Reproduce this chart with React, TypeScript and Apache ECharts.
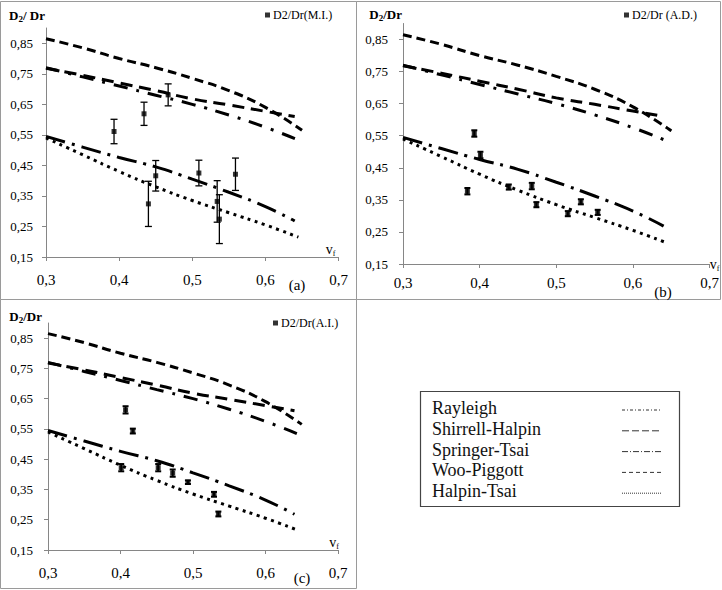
import React, { useEffect, useRef } from "react";
import * as echarts from "echarts";

// ---------- data ----------
const X_TICKS = [0.3, 0.4, 0.5, 0.6, 0.7];
const Y_TICKS = [0.15, 0.25, 0.35, 0.45, 0.55, 0.65, 0.75, 0.85];

const MODEL_NAMES = ["Rayleigh", "Shirrell-Halpin", "Springer-Tsai", "Woo-Piggott", "Halpin-Tsai"];

const RAYLEIGH_VF = [0.3, 0.35, 0.4, 0.45, 0.5, 0.55, 0.6, 0.648];
const RAYLEIGH = [0.77, 0.74, 0.71, 0.68, 0.65, 0.615, 0.575, 0.53];

const SHIRRELL_VF = [0.3, 0.35, 0.4, 0.45, 0.5, 0.55, 0.6, 0.64];
const SHIRRELL = [0.768, 0.745, 0.72, 0.695, 0.668, 0.648, 0.627, 0.61];

const SPRINGER_VF = [0.3, 0.35, 0.4, 0.45, 0.5, 0.55, 0.6, 0.64];
const SPRINGER = [0.545, 0.51, 0.476, 0.445, 0.405, 0.362, 0.315, 0.268];

const WOO_VF = [0.3, 0.35, 0.4, 0.45, 0.5, 0.55, 0.6, 0.65];
const WOO = [0.865, 0.835, 0.8, 0.77, 0.735, 0.695, 0.64, 0.565];

const HALPIN_VF = [0.3, 0.35, 0.4, 0.45, 0.5, 0.55, 0.6, 0.645];
const HALPIN = [0.54, 0.485, 0.43, 0.38, 0.335, 0.295, 0.255, 0.215];

// panel (a) : M.I.
const MI_NAME = "D2/Dr(M.I.)";
const MI_VF = [0.393, 0.434, 0.467, 0.44, 0.45, 0.509, 0.534, 0.537, 0.559];
const MI_VAL = [0.561, 0.619, 0.681, 0.324, 0.416, 0.425, 0.332, 0.274, 0.421];
const MI_ERR = [0.04, 0.038, 0.036, 0.074, 0.05, 0.042, 0.068, 0.08, 0.053];

// panel (b) : A.D.
const AD_NAME = "D2/Dr (A.D.)";
const AD_VF = [0.393, 0.401, 0.384, 0.438, 0.468, 0.474, 0.515, 0.532, 0.554];
const AD_VAL = [0.557, 0.49, 0.377, 0.39, 0.393, 0.335, 0.307, 0.344, 0.311];
const AD_ERR = [0.01, 0.01, 0.01, 0.008, 0.01, 0.008, 0.008, 0.008, 0.008];

// panel (c) : A.I.
const AI_NAME = "D2/Dr(A.I.)";
const AI_VF = [0.407, 0.417, 0.401, 0.452, 0.472, 0.493, 0.529, 0.535];
const AI_VAL = [0.613, 0.543, 0.422, 0.422, 0.404, 0.374, 0.334, 0.269];
const AI_ERR = [0.012, 0.008, 0.012, 0.012, 0.012, 0.006, 0.008, 0.008];

// ---------- styles ----------
const FONT = '"Liberation Serif", "Times New Roman", serif';
const AXIS_COLOR = "#868686";

const MODELS = [
  { name: MODEL_NAMES[0], vf: RAYLEIGH_VF, val: RAYLEIGH, dash: [14, 9, 3, 9], legendDash: [3, 2, 1, 2] },
  { name: MODEL_NAMES[1], vf: SHIRRELL_VF, val: SHIRRELL, dash: [12, 7], legendDash: [7, 3] },
  { name: MODEL_NAMES[2], vf: SPRINGER_VF, val: SPRINGER, dash: [20, 7, 3, 7], legendDash: [6, 2, 1, 2] },
  { name: MODEL_NAMES[3], vf: WOO_VF, val: WOO, dash: [9, 5], legendDash: [4, 3] },
  { name: MODEL_NAMES[4], vf: HALPIN_VF, val: HALPIN, dash: [3, 4.5], legendDash: [1, 1] },
];

const PANELS = [
  {
    grid: { left: 46, top: 28, width: 292.6, height: 229 },
    name: MI_NAME, vf: MI_VF, val: MI_VAL, err: MI_ERR,
    yMargin: 13, xMargin: 15, yNameGap: 5, yNamePad: [0, 1, 0, 0],
    vName: { gap: -8, align: "center", vAlign: "bottom" },
    legend: { left: 265, top: 9 },
    cap: 3.5, barWidth: 1.3, label: "(a)", labelPos: [297, 285],
  },
  {
    grid: { left: 403, top: 23.5, width: 307, height: 240.5 },
    name: AD_NAME, vf: AD_VF, val: AD_VAL, err: AD_ERR,
    yMargin: 15, xMargin: 11, yNameGap: 1, yNamePad: [0, 1, 0, 0],
    vName: { gap: 0, align: "left", vAlign: "middle" },
    legend: { left: 624, top: 9 },
    cap: 3, barWidth: 2, label: "(b)", labelPos: [663, 292],
  },
  {
    grid: { left: 48, top: 323, width: 290, height: 227 },
    name: AI_NAME, vf: AI_VF, val: AI_VAL, err: AI_ERR,
    yMargin: 15, xMargin: 15, yNameGap: -1, yNamePad: [0, 6, 0, 0],
    vName: { gap: -4, align: "center", vAlign: "bottom" },
    legend: { left: 273, top: 317 },
    cap: 3, barWidth: 2, label: "(c)", labelPos: [302, 578],
  },
];

const zip = (a: number[], b: number[]) => a.map((x, i) => [x, b[i]]);

function buildOption() {
  const grid: any[] = [];
  const xAxis: any[] = [];
  const yAxis: any[] = [];
  const series: any[] = [];
  const legend: any[] = [];

  PANELS.forEach((p, i) => {
    grid.push({ ...p.grid, containLabel: false });
    xAxis.push({
      type: "value",
      gridIndex: i,
      min: 0.3,
      max: 0.7,
      axisLine: { show: true, onZero: false, lineStyle: { color: AXIS_COLOR, width: 1 } },
      axisTick: { show: true, customValues: X_TICKS, length: 4, lineStyle: { color: AXIS_COLOR } },
      axisLabel: {
        customValues: X_TICKS,
        formatter: (v: number) => v.toFixed(1).replace(".", ","),
        fontFamily: FONT,
        fontSize: 15,
        color: "#000",
        margin: p.xMargin,
      },
      splitLine: { show: false },
      name: "{v|v}{f|f}",
      nameLocation: "end",
      nameGap: p.vName.gap,
      nameTextStyle: {
        align: p.vName.align,
        verticalAlign: p.vName.vAlign,
        rich: {
          v: { fontFamily: FONT, fontSize: 14, color: "#000" },
          f: { fontFamily: FONT, fontSize: 8, color: "#000", padding: [8, 0, 0, 0] },
        },
      },
    });
    yAxis.push({
      type: "value",
      gridIndex: i,
      min: 0.15,
      max: 0.9,
      axisLine: { show: true, onZero: false, lineStyle: { color: AXIS_COLOR, width: 1 } },
      axisTick: { show: true, customValues: Y_TICKS, length: 4, lineStyle: { color: AXIS_COLOR } },
      axisLabel: {
        customValues: Y_TICKS,
        formatter: (v: number) => v.toFixed(2).replace(".", ","),
        fontFamily: FONT,
        fontSize: 13,
        color: "#000",
        margin: p.yMargin,
      },
      splitLine: { show: false },
      name: i === 0 ? "{d|D}{s|2}{d|/ Dr}" : "{d|D}{s|2}{d|/Dr}",
      nameLocation: "end",
      nameGap: p.yNameGap,
      nameTextStyle: {
        align: "right",
        verticalAlign: "bottom",
        padding: p.yNamePad,
        rich: {
          d: { fontFamily: FONT, fontSize: 13, fontWeight: "bold", color: "#000" },
          s: { fontFamily: FONT, fontSize: 9, fontWeight: "bold", color: "#000", padding: [7, 0, 0, 0] },
        },
      },
    });

    MODELS.forEach((m) => {
      series.push({
        type: "line",
        name: m.name,
        xAxisIndex: i,
        yAxisIndex: i,
        data: zip(m.vf, m.val),
        smooth: 0.5,
        showSymbol: false,
        symbol: "none",
        silent: true,
        lineStyle: { color: "#000", width: 3, type: m.dash, cap: "butt" },
        z: 2,
      });
    });

    series.push({
      type: "custom",
      name: p.name + " err",
      xAxisIndex: i,
      yAxisIndex: i,
      silent: true,
      data: p.vf.map((x, k) => [x, p.val[k] - p.err[k], p.val[k] + p.err[k]]),
      encode: { x: 0, y: [1, 2] },
      renderItem: (params: any, api: any) => {
        const x = api.value(0);
        const lo = api.coord([x, api.value(1)]);
        const hi = api.coord([x, api.value(2)]);
        const c = p.cap;
        const style = { stroke: "#000", lineWidth: p.barWidth };
        return {
          type: "group",
          children: [
            { type: "line", shape: { x1: lo[0], y1: lo[1], x2: hi[0], y2: hi[1] }, style },
            { type: "line", shape: { x1: hi[0] - c, y1: hi[1], x2: hi[0] + c, y2: hi[1] }, style },
            { type: "line", shape: { x1: lo[0] - c, y1: lo[1], x2: lo[0] + c, y2: lo[1] }, style },
          ],
        };
      },
      z: 3,
    });

    series.push({
      type: "scatter",
      name: p.name,
      xAxisIndex: i,
      yAxisIndex: i,
      data: zip(p.vf, p.val),
      symbol: "rect",
      symbolSize: 5,
      silent: true,
      itemStyle: { color: "#000" },
      z: 4,
    });

    legend.push({
      data: [p.name],
      left: p.legend.left,
      top: p.legend.top,
      padding: 0,
      itemWidth: 5,
      itemHeight: 5,
      icon: "rect",
      selectedMode: false,
      textStyle: { fontFamily: FONT, fontSize: 12, color: "#000", padding: [0, 0, 0, -2] },
    });
  });

  const graphic: any[] = [
    { type: "rect", silent: true, shape: { x: 0.5, y: 1.5, width: 356, height: 298 }, style: { fill: "none", stroke: "#9a9a9a", lineWidth: 1 } },
    { type: "rect", silent: true, shape: { x: 356.5, y: 1.5, width: 364, height: 298 }, style: { fill: "none", stroke: "#9a9a9a", lineWidth: 1 } },
    { type: "rect", silent: true, shape: { x: 0.5, y: 299.5, width: 356, height: 289 }, style: { fill: "none", stroke: "#9a9a9a", lineWidth: 1 } },
  ];
  PANELS.forEach((p) => {
    graphic.push({
      type: "text",
      silent: true,
      x: p.labelPos[0],
      y: p.labelPos[1],
      style: { text: p.label, fontFamily: FONT, fontSize: 15, fill: "#000", align: "center", verticalAlign: "middle" },
    });
  });
  // model legend box
  const boxX = 420.5, boxY = 391.5, boxW = 259, boxH = 115;
  graphic.push({ type: "rect", silent: true, shape: { x: boxX, y: boxY, width: boxW, height: boxH }, style: { fill: "#fff", stroke: "#444", lineWidth: 1.2 } });
  MODELS.forEach((m, k) => {
    const cy = 408 + k * 20.8;
    graphic.push({
      type: "text",
      silent: true,
      x: 432,
      y: cy,
      style: { text: m.name, fontFamily: FONT, fontSize: 18, fill: "#111", align: "left", verticalAlign: "middle" },
    });
    graphic.push({
      type: "line",
      silent: true,
      shape: { x1: 622, y1: cy + 2, x2: 662, y2: cy + 2 },
      style: { stroke: "#333", lineWidth: 1, lineDash: m.legendDash },
    });
  });

  return {
    animation: false,
    backgroundColor: "#fff",
    grid,
    xAxis,
    yAxis,
    legend,
    series,
    graphic,
  };
}

export default function App() {
  const ref = useRef<HTMLDivElement>(null);
  useEffect(() => {
    if (!ref.current) return;
    const chart = echarts.init(ref.current, null, { renderer: "svg" });
    chart.setOption(buildOption() as any);
    return () => chart.dispose();
  }, []);
  return (
    <div
      ref={ref}
      style={{ position: "absolute", left: 0, top: 0, width: 722, height: 590, background: "#fff" }}
    />
  );
}
